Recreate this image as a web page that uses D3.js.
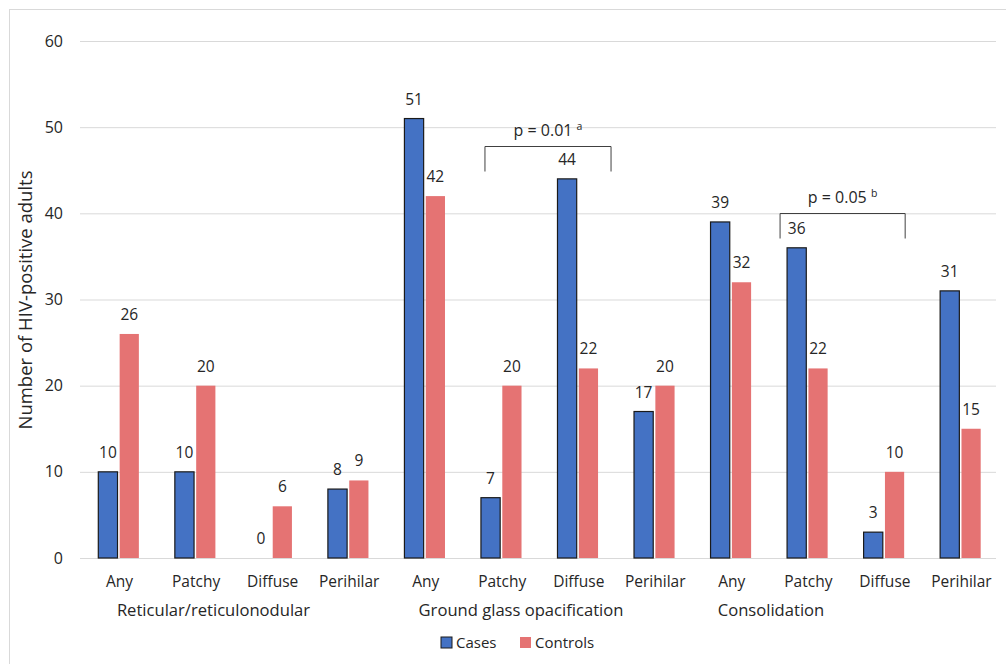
<!DOCTYPE html>
<html><head><meta charset="utf-8">
<script src="https://cdn.jsdelivr.net/npm/d3@7"></script>
<style>body{margin:0;background:#fff}svg text{font-family:"Open Sans","Noto Sans",sans-serif;fill:#262626}</style>
</head><body><svg id="c" width="1006" height="664"></svg>
<script>
const subcats = ["Any","Patchy","Diffuse","Perihilar","Any","Patchy","Diffuse","Perihilar","Any","Patchy","Diffuse","Perihilar"];
const groups = ["Reticular/reticulonodular","Ground glass opacification","Consolidation"];
const series = ["Cases","Controls"];
const cases = [10,10,0,8,51,7,44,17,39,36,3,31];
const controls = [26,20,6,9,42,20,22,20,32,22,10,15];
const yTicks = [0,10,20,30,40,50,60];
const annotations = [{from:5,to:6,text:"p = 0.01 ",sup:"a",level:47.8,dl:4,dr:13},{from:9,to:10,text:"p = 0.05 ",sup:"b",level:40,dl:-7,dr:1}];

const svg = d3.select("#c");
const colors = {Cases:"#4472C4",Controls:"#E57373"};
const m = {left:83,right:996,top:41,bottom:558};

svg.append("rect").attr("x",9.5).attr("y",9.5).attr("width",1100).attr("height",1100).attr("fill","none").attr("stroke","#d9d9d9");

const x0 = d3.scaleBand().domain(d3.range(12)).range([m.left,m.right]).paddingInner(0.47).paddingOuter(0.2);
const x1 = d3.scaleBand().domain(series).range([0,x0.bandwidth()]).paddingInner(0.1);
const y = d3.scaleLinear().domain([0,60]).range([m.bottom,m.top]);

svg.append("g").selectAll("line").data(yTicks).join("line")
 .attr("x1",m.left-3).attr("x2",m.right).attr("y1",d=>y(d)+0.5).attr("y2",d=>y(d)+0.5)
 .attr("stroke","#d9d9d9").attr("stroke-width",1);
svg.append("g").selectAll("text").data(yTicks).join("text")
 .attr("x",63).attr("y",d=>y(d)).attr("dy","0.35em").attr("text-anchor","end").attr("font-size",16).text(d=>d);

svg.append("text").attr("transform","translate(32,300) rotate(-90)").attr("text-anchor","middle").attr("font-size",18.5).text("Number of HIV-positive adults");

const data = subcats.map((s,i)=>({i,s,Cases:cases[i],Controls:controls[i]}));
const g = svg.append("g");
data.forEach(d=>{
  series.forEach(k=>{
    const bx = x0(d.i)+x1(k), v=d[k];
    if(v>0){
      g.append("rect").attr("x",bx).attr("y",y(v)).attr("width",x1.bandwidth()).attr("height",y(0)-y(v))
       .attr("fill",colors[k]).attr("stroke",k==="Cases"?"#1a1a1a":"none").attr("stroke-width",1.2);
    }
    g.append("text").attr("x",bx+x1.bandwidth()/2).attr("y",y(v)-14).attr("text-anchor","middle").attr("font-size",15.5).text(v);
  });
});

svg.append("g").selectAll("text").data(data).join("text")
 .attr("x",d=>x0(d.i)+x0.bandwidth()/2+1).attr("y",587).attr("text-anchor","middle").attr("font-size",15.5).text(d=>d.s);
const gx = [213.5,521,771];
svg.append("g").selectAll("text").data(groups).join("text")
 .attr("x",(d,i)=>gx[i]).attr("y",616).attr("text-anchor","middle").attr("font-size",16.6).text(d=>d);

annotations.forEach(a=>{
  const xl = x0(a.from)+x1("Cases")+a.dl, xr = x0(a.to)+x0.bandwidth()+a.dr;
  const yt = Math.round(y(a.level))+0.5, yb = yt+25;
  svg.append("path").attr("d",`M${xl},${yb}V${yt}H${xr}V${yb}`).attr("fill","none").attr("stroke","#404040").attr("stroke-width",1);
  const t = svg.append("text").attr("x",(xl+xr)/2).attr("y",yt-11).attr("text-anchor","middle").attr("font-size",16);
  t.append("tspan").text(a.text);
  t.append("tspan").attr("font-size",10.5).attr("dy",-6).text(a.sup);
});

const lg = svg.append("g").attr("transform","translate(441,643)");
lg.append("rect").attr("x",0).attr("y",-6).attr("width",11).attr("height",11).attr("fill",colors.Cases).attr("stroke","#1a1a1a");
lg.append("text").attr("x",15).attr("y",0).attr("dy","0.35em").attr("font-size",15).text("Cases");
lg.append("rect").attr("x",79).attr("y",-6).attr("width",11).attr("height",11).attr("fill",colors.Controls);
lg.append("text").attr("x",94).attr("y",0).attr("dy","0.35em").attr("font-size",15).text("Controls");
</script></body></html>
